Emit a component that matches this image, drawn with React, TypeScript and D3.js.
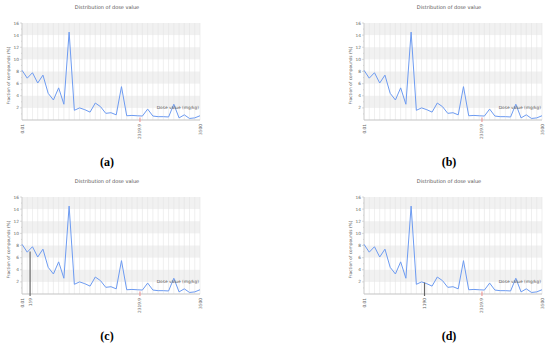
import React from "react";
import * as d3 from "d3";

// fraction of compounds (%) per dose bin, 0.01 .. 3500 mg/kg
const fractions = [
  8.2, 6.9, 7.8, 6.1, 7.4, 4.4, 3.3, 5.3, 2.6, 14.5, 1.6, 2.0, 1.7, 1.3, 2.8,
  2.2, 1.1, 1.2, 0.85, 5.5, 0.7, 0.75, 0.7, 0.65, 1.8, 0.65, 0.55, 0.55, 0.5,
  2.6, 0.35, 0.85, 0.25, 0.35, 0.7
];
const doseDomain = [0.01, 3500];
const yTicks = [2, 4, 6, 8, 10, 12, 14, 16];
const bands = [2, 6, 10, 14];
const refDose = 2319.9;
const panelLabels = ["(a)", "(b)", "(c)", "(d)"];
// query dose shown in each panel (null = none) and the curve height there
const queryDoses = [null, null, 159, 1190];
const queryHeights = [0, 0, 7.0, 1.9];

const W = 178;
const H = 97;

function Panel({ ox, oy, idx }: { ox: number; oy: number; idx: number }) {
  const plotLeft = idx % 2 === 0 ? 22 : 89;
  const top = 23;
  const x = d3.scaleLinear().domain(doseDomain).range([0, W]);
  const xi = d3.scaleLinear().domain([0, fractions.length - 1]).range([0, W]);
  const y = d3.scaleLinear().domain([0, 16]).range([H, 0]);
  const line = d3
    .line<number>()
    .x((d, i) => xi(i))
    .y(d => y(d));
  const q = queryDoses[idx];
  const xLabels: [number, string][] = [
    [doseDomain[0], "0.01"],
    [refDose, "2319.9"],
    [doseDomain[1], "3500"]
  ];
  if (q !== null) xLabels.push([q, String(q)]);
  const cx = plotLeft + 85;
  return (
    <g transform={`translate(${ox},${oy})`}>
      <text x={cx} y={9} textAnchor="middle" fontSize={5} fill="#555" fontFamily="DejaVu Sans">
        Distribution of dose value
      </text>
      <g transform={`translate(${plotLeft},${top})`}>
        {bands.map(b => (
          <rect key={b} x={0} width={W} y={y(b + 2)} height={y(b) - y(b + 2)} fill="#f1f1f1" />
        ))}
        {fractions.map((d, i) => (
          <line key={i} x1={xi(i)} x2={xi(i)} y1={0} y2={H} stroke="#e4e4e4" strokeWidth={0.6} />
        ))}
        <line x1={0} x2={0} y1={0} y2={H} stroke="#c8c8c8" strokeWidth={0.8} />
        {d3.range(1, 17).map(t => (
          <line key={t} x1={t % 2 === 0 ? -2 : -1} x2={0} y1={y(t)} y2={y(t)} stroke="#bbb" strokeWidth={0.5} />
        ))}
        {yTicks.map(t => (
          <text key={t} x={-3} y={y(t) + 1.5} textAnchor="end" fontSize={4.3} fill="#666" fontFamily="DejaVu Sans">
            {t}
          </text>
        ))}
        <line x1={0} x2={W} y1={H} y2={H} stroke="#c4c4c4" strokeWidth={1.2} />
        <path d={line(fractions) || ""} fill="none" stroke="#6d9bf1" strokeWidth={1} strokeLinejoin="round" />
        <line x1={x(refDose)} x2={x(refDose)} y1={H - 2.5} y2={H + 2} stroke="#ef8a8a" strokeWidth={1} />
        {q !== null && (
          <line x1={x(q)} x2={x(q)} y1={y(queryHeights[idx])} y2={H + 2} stroke="#666" strokeWidth={1.2} />
        )}
        {xLabels.map(([v, s]) => (
          <text
            key={s}
            transform={`translate(${x(v) + 1.5},${H + 4}) rotate(-90)`}
            textAnchor="end"
            fontSize={4.3}
            fill="#666"
            fontFamily="DejaVu Sans"
          >
            {s}
          </text>
        ))}
        <text x={W - 1} y={H - 11} textAnchor="end" fontSize={4.3} fill="#555" fontFamily="DejaVu Sans">
          Dose value (mg/kg)
        </text>
      </g>
      <text
        transform={`translate(${plotLeft - 12},${top + H / 2 + 4}) rotate(-90)`}
        textAnchor="middle"
        fontSize={4.3}
        fill="#555"
        fontFamily="DejaVu Sans"
      >
        Fraction of compounds (%)
      </text>
      <text x={idx % 2 === 0 ? 107 : 174} y={166} textAnchor="middle" fontSize={12} fontWeight="bold" fontFamily="Liberation Serif" fill="#000">
        {panelLabels[idx]}
      </text>
    </g>
  );
}

export default function App() {
  return (
    <svg width={550} height={348} style={{ position: "absolute", left: 0, top: 0, background: "#fff" }}>
      <rect width={550} height={348} fill="#fff" />
      <Panel ox={0} oy={0} idx={0} />
      <Panel ox={275} oy={0} idx={1} />
      <Panel ox={0} oy={174} idx={2} />
      <Panel ox={275} oy={174} idx={3} />
    </svg>
  );
}
